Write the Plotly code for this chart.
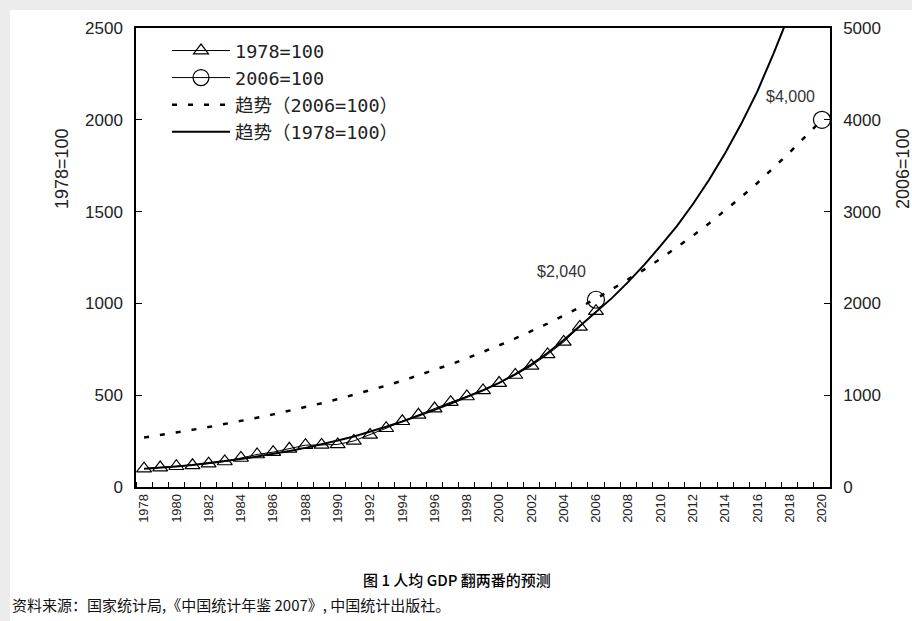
import plotly.graph_objects as go

years = list(range(1978, 2021))

# 1978=100 actual index (left axis), 1978-2006
idx_years = list(range(1978, 2007))
idx_1978 = [100, 106, 113, 118, 127, 139, 158, 177, 190, 208, 228, 229, 232, 251, 284,
            320, 358, 393, 427, 462, 493, 526, 566, 610, 660, 722, 790, 872, 958]

# trend (1978=100), left axis
trend_1978 = [100, 105, 112, 120, 130, 141, 153, 166, 180, 196, 213, 232, 253, 275, 300,
              328, 357, 388, 420, 455, 490, 527, 567, 615, 668, 730, 800, 875, 950, 1030,
              1117, 1211, 1313, 1420, 1540, 1672, 1818, 1978, 2155, 2360, 2580, 2815, 3070]

# trend (2006=100), right axis
trend_2006 = [540, 566, 594, 623, 653, 685, 719, 754, 791, 829, 870, 912, 957, 1004, 1053,
              1104, 1158, 1215, 1274, 1337, 1402, 1471, 1543, 1618, 1697, 1780, 1868, 1959,
              2050, 2155, 2261, 2371, 2487, 2609, 2736, 2870, 3011, 3158, 3312, 3474, 3644,
              3823, 4000]

# 2006=100 points (right axis)
pt_years = [2006, 2020]
pt_vals = [2040, 4000]
pt_labels = ["$2,040", "$4,000"]
pt_series = [pt_vals[pt_years.index(y)] if y in pt_years else None for y in years]

leg_font = dict(family="DejaVu Sans Mono, Noto Sans CJK SC", size=18.5, color="#222")
tick_font = dict(family="Liberation Sans, Arial", size=17, color="#222")

fig = go.Figure()
fig.add_trace(go.Scatter(x=idx_years, y=idx_1978, name="1978=100", mode="lines+markers",
                         line=dict(color="black", width=1),
                         marker=dict(symbol="triangle-up-open", size=13, color="black",
                                     line=dict(width=1.2))))
fig.add_trace(go.Scatter(x=years, y=pt_series, name="2006=100", mode="lines+markers",
                         yaxis="y2", connectgaps=False,
                         line=dict(color="black", width=1),
                         marker=dict(symbol="circle-open", size=17, color="black",
                                     line=dict(width=1.2))))
fig.add_trace(go.Scatter(x=years, y=trend_2006, name="趋势（2006=100）", mode="lines",
                         yaxis="y2", line=dict(color="black", width=2.5, dash="5px,11px")))
fig.add_trace(go.Scatter(x=years, y=trend_1978, name="趋势（1978=100）", mode="lines",
                         line=dict(color="black", width=2)))

for yr, v, t, dx, dy in zip(pt_years, pt_vals, pt_labels, [-34, -31], [28, 23]):
    fig.add_annotation(x=yr, y=v, xref="x", yref="y2", text=t, showarrow=False,
                       xanchor="center", yanchor="middle",
                       xshift=dx, yshift=dy, font=dict(family="Liberation Sans, Arial", size=16, color="#333"))

W, H = 912, 621
L, R, T, B = 136, 82, 28, 134
pw, ph = W - L - R, H - T - B
def px(x):
    return (x - L) / pw
def py(y):
    return (H - B - y) / ph

fig.add_shape(type="rect", xref="paper", yref="paper", x0=px(10), x1=px(W + 5),
              y0=py(H + 5), y1=py(10), fillcolor="white", line=dict(width=0), layer="below")

ann_common = dict(xref="paper", yref="paper", showarrow=False, xanchor="center", yanchor="middle")
fig.add_annotation(x=px(62), y=py(169), text="1978=100", textangle=-90,
                   font=dict(family="Liberation Sans, Arial", size=18, color="#222"), **ann_common)
fig.add_annotation(x=px(903), y=py(169), text="2006=100", textangle=-90,
                   font=dict(family="Liberation Sans, Arial", size=18, color="#222"), **ann_common)
fig.add_annotation(x=px(457), y=py(579), text="图 1 人均 GDP 翻两番的预测",
                   font=dict(family="Noto Sans CJK SC", size=15, color="#000", weight=500), **ann_common)
fig.add_annotation(x=px(10), y=py(604), xref="paper", yref="paper", xanchor="left", yanchor="middle",
                   text="资料来源：国家统计局,《中国统计年鉴 2007》, 中国统计出版社。", showarrow=False,
                   font=dict(family="Noto Sans CJK SC", size=15, color="#111"))

fig.update_layout(
    width=W, height=H,
    margin=dict(l=L, r=R, t=T, b=B),
    paper_bgcolor="#ececec", plot_bgcolor="white",
    showlegend=True,
    legend=dict(x=px(167), y=py(32), xanchor="left", yanchor="top", bgcolor="rgba(0,0,0,0)",
                font=leg_font, itemwidth=58, tracegroupgap=0),
    xaxis=dict(range=[1977.5, 2020.5], tick0=1978, dtick=2, tickangle=-90, ticks="",
               showgrid=False, zeroline=False, showline=True, linecolor="black", linewidth=1.5,
               mirror=True, tickfont=dict(family="Liberation Sans, Arial", size=13, color="#222"),
               minor=dict(tick0=1977.5, dtick=1, ticks="inside", ticklen=5, tickcolor="black")),
    yaxis=dict(range=[0, 2500], dtick=500, ticks="inside", ticklen=6, tickcolor="black",
               showgrid=False, zeroline=False, showline=True, linecolor="black", linewidth=1.5,
               tickfont=tick_font, ticklabelstandoff=8),
    yaxis2=dict(range=[0, 5000], dtick=1000, overlaying="y", side="right", ticks="inside",
                ticklen=6, tickcolor="black", showgrid=False, zeroline=False, showline=True,
                linecolor="black", linewidth=1.5, tickfont=tick_font, ticklabelstandoff=8),
)

fig.write_html("out.html", post_script="document.body.style.margin='0';",
               config={"displayModeBar": False})
